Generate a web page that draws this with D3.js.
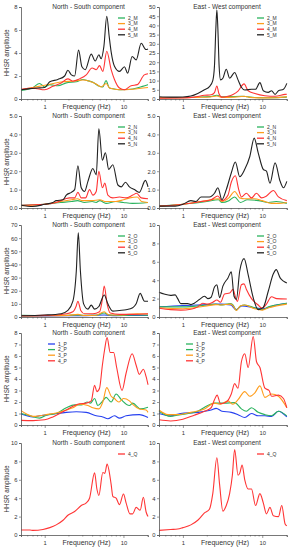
<!DOCTYPE html>
<html lang="en">
<head>
<meta charset="UTF-8">
<script src="https://cdnjs.cloudflare.com/ajax/libs/d3/7.8.5/d3.min.js"></script>
<title>HHSR</title>
<style>
  body { margin: 0; background: #fff; }
  svg text { font-family: "Liberation Sans", Arial, sans-serif; fill: #333; }
</style>
</head>
<body>
<div id="chart"></div>
<script>
// ---- data: [frequency (Hz), HHSR amplitude] ----
const freqDomain = [0.5, 20.5];
const titles = ["North - South component", "East - West component"];
const xTickValues = [0.5, 0.6, 0.7, 0.8, 0.9, 1, 2, 3, 4, 5, 6, 7, 8, 9, 10, 20];
const xTickLabels = [1, 10];

// row 1 : M
const ns_2M = [[0.5,0.75],[0.71,1.0],[0.86,1.35],[1,1.05],[1.16,1.25],[1.47,1.15],[1.88,1.4],[2.52,1.5],[3.06,1.7],[3.5,1.6],[4.1,1.45],[4.97,1.1],[5.47,1.05],[6.0,1.6],[6.65,0.95],[7.69,0.87],[9.4,0.8],[13.1,0.87],[17.5,1.1],[20.5,1.25]];
const ns_3M = [[0.5,0.8],[0.71,1.0],[1,1.2],[1.27,1.35],[1.7,1.5],[2.28,1.55],[3.06,1.65],[3.71,1.55],[4.5,1.3],[5.21,1.05],[6.03,1.35],[6.65,0.95],[8.9,0.8],[13.1,0.85],[20.5,1.0]];
const ns_4M = [[0.5,0.85],[0.71,0.95],[1,0.8],[1.27,1.1],[1.62,1.4],[1.97,1.75],[2.28,1.55],[2.77,1.75],[3.37,2.1],[4.0,2.7],[4.5,2.55],[4.97,2.9],[5.47,2.4],[6.14,4.15],[6.98,2.55],[7.69,1.7],[8.9,0.95],[10.3,0.8],[12.5,1.15],[15,1.25],[18.4,2.1],[20.5,2.2]];
const ns_5M = [[0.5,0.8],[0.65,0.9],[0.8,0.95],[1,1.0],[1.16,1.5],[1.47,1.7],[1.79,2.0],[1.97,2.5],[2.18,2.1],[2.4,2.0],[2.69,4.25],[2.97,2.8],[3.27,2.55],[3.9,3.9],[4.38,3.3],[4.87,3.85],[5.2,3.5],[5.65,4.6],[6.14,7.2],[6.6,5.4],[6.98,4.1],[7.69,2.85],[8.9,2.4],[10.3,2.8],[11.3,2.25],[12.9,3.7],[14.5,3.4],[16.8,4.85],[19.3,4.3],[20.5,4.35]];
const ew_2M = [[0.5,0.8],[1,0.8],[1.5,1.0],[2.2,1.3],[2.68,2.0],[3.1,1.2],[4,1.3],[5.5,1.5],[6.5,1.2],[8,0.8],[12,0.7],[20.4,1.0]];
const ew_3M = [[0.5,0.6],[1,0.7],[1.5,0.9],[2.2,1.1],[2.68,1.6],[3.1,0.9],[4.5,1.0],[5.9,1.5],[7,0.9],[10,0.6],[15,0.7],[20.4,1.3]];
const ew_4M = [[0.5,0.5],[1,0.6],[1.39,1],[1.87,2],[2.27,2.3],[2.5,3.5],[2.68,7.1],[2.84,3],[3.1,1],[3.7,1.5],[4.28,2.5],[4.95,4.3],[5.9,8.2],[6.64,4.5],[8.07,3],[10.8,1.8],[14.5,1.5],[19.4,2.5],[20.4,2.6]];
const ew_5M = [[0.5,1.2],[0.7,1.0],[1,1.1],[1.26,1.6],[1.54,3],[1.87,5],[2.16,6.7],[2.38,10],[2.5,18],[2.6,38],[2.68,48.5],[2.76,38],[2.86,18],[2.98,10.4],[3.19,11.3],[3.52,16.2],[3.88,11.3],[4.49,14.4],[4.95,10.4],[5.46,6.4],[6.02,4.9],[7.32,5.3],[8.23,5.3],[9.34,8.9],[10.3,4.5],[11.9,3.6],[13.1,4.5],[14.5,2.5],[16,4.5],[18.5,5.3],[20.4,8.5]];

// row 2 : N
const ns_2N = [[0.5,0.15],[1,0.2],[1.6,0.3],[2.2,0.35],[2.6,0.4],[3.2,0.3],[4,0.35],[4.5,0.3],[5,0.4],[6,0.25],[8,0.35],[10,0.3],[13,0.25],[20.5,0.3]];
const ns_3N = [[0.5,0.12],[1,0.2],[1.6,0.35],[2.2,0.45],[2.6,0.5],[3,0.4],[4,0.4],[5,0.45],[6,0.35],[8,0.35],[10,0.45],[12,0.55],[15,0.6],[17,0.35],[20.5,0.3]];
const ns_4N = [[0.5,0.15],[1,0.2],[1.4,0.3],[2.07,0.55],[2.4,0.55],[2.64,0.85],[2.91,0.55],[3.3,0.55],[3.71,1.0],[4.09,0.7],[4.51,0.9],[4.87,2.0],[5.4,1.1],[5.8,1.35],[6.34,0.7],[7.33,0.55],[8.9,0.6],[10.8,0.55],[13.1,0.7],[14.7,0.8],[16.8,0.55],[20.5,0.5]];
const ns_5N = [[0.5,0.15],[0.7,0.08],[1,0.2],[1.27,0.3],[1.4,0.4],[1.71,0.45],[1.88,0.7],[2.18,0.85],[2.4,1.0],[2.64,2.3],[2.91,1.1],[3.21,0.9],[3.54,1.45],[4.09,2.15],[4.51,1.8],[4.87,4.3],[5.4,2.6],[5.9,3.0],[6.5,2.1],[7.33,2.35],[8.5,1.25],[9.4,1.15],[10.6,1.4],[11.9,1.15],[13.8,1.0],[15.9,0.85],[19.0,1.5],[20.5,1.15]];
const ew_2N = [[0.5,0.1],[1,0.2],[2,0.35],[2.8,0.45],[3.1,0.3],[3.8,0.4],[4.5,0.6],[5.3,0.3],[6.5,0.45],[9,0.4],[12,0.3],[15,0.35],[20.4,0.25]];
const ew_3N = [[0.5,0.1],[1,0.2],[2,0.4],[2.8,0.5],[3.1,0.35],[3.8,0.55],[4.5,0.9],[5.2,0.55],[6,0.5],[8,0.5],[10,0.4],[13,0.25],[16,0.25],[20.4,0.3]];
const ew_4N = [[0.5,0.1],[1,0.2],[1.69,0.35],[2.27,0.45],[2.76,0.65],[3.1,0.4],[3.7,0.7],[4.07,1.4],[4.58,1.75],[5.05,1.0],[5.46,0.6],[6.32,0.8],[7.32,0.55],[8.47,0.8],[9.81,0.55],[11.3,0.65],[13.8,0.95],[16,0.6],[20.4,0.4]];
const ew_5N = [[0.5,0.1],[0.8,0.1],[1,0.2],[1.26,0.4],[1.46,0.35],[1.69,0.6],[2.16,0.6],[2.5,0.8],[2.76,1.1],[3.1,0.45],[3.52,1.0],[4.07,1.9],[4.58,2.5],[5.2,1.7],[6.02,2.1],[6.97,2.8],[7.91,3.8],[8.89,3.0],[10.3,2.1],[11.3,2.0],[12.5,1.35],[14.5,2.45],[16.8,1.45],[18.5,1.1],[20.4,1.45]];

// row 3 : O
const ns_1O = [[0.5,0.8],[1,0.8],[2,0.9],[3,1.0],[5.7,1.5],[8,1.0],[13,1.2],[20.5,1.2]];
const ns_2O = [[0.5,1.2],[1,1.1],[2,1.3],[2.64,1.5],[3.2,1.2],[4.5,1.3],[5.7,3],[6.5,1.5],[9,1.2],[15,1.5],[20.5,1.3]];
const ns_3O = [[0.5,0.8],[1,0.9],[2,1.2],[2.64,2],[3.2,1.1],[4.5,1.3],[5.7,4],[6.5,1.5],[9,1.5],[15,2.5],[20.5,2.3]];
const ns_4O = [[0.5,1.0],[1,1.2],[1.88,2.5],[2.28,4],[2.5,8],[2.64,12],[2.87,5],[3.21,2.5],[4.09,2.5],[4.97,4],[5.35,12],[5.7,23.5],[6.2,10],[6.8,3],[8.9,2],[13.1,2],[20.5,2.5]];
const ns_5O = [[0.5,1.0],[1,1.5],[1.62,2.5],[1.97,5],[2.28,12],[2.52,35],[2.67,64],[2.84,35],[3.12,10],[3.54,6],[3.9,9],[4.3,6],[4.87,8],[5.7,16.7],[6.34,10],[7.33,4.5],[8.9,5],[10.8,5.5],[13.1,7],[14.5,10],[16.3,18],[18.5,12],[20.5,12]];
const ew_1O = [[0.5,1.1],[1,1.25],[2,1.35],[3,1.4],[4,1.3],[4.7,0.8],[5.5,1.2],[8,1.0],[10,0.9],[15,1.3],[20.4,1.5]];
const ew_2O = [[0.5,1.1],[1,1.1],[2,1.3],[2.6,1.4],[3,1.3],[4,1.45],[4.3,1.3],[4.7,0.75],[5.3,1.2],[6,1.3],[8,1.0],[10,0.8],[12,1.1],[15,1.3],[20.4,1.5]];
const ew_3O = [[0.5,1.0],[1,0.9],[2,1.2],[2.6,1.35],[3,1.3],[4,1.4],[4.3,1.2],[4.7,0.7],[5.3,1.2],[6,1.3],[8,0.9],[10,0.75],[12,1.0],[15,1.2],[20.4,1.4]];
const ew_4O = [[0.5,0.95],[0.7,0.8],[0.94,0.75],[1.26,0.85],[1.54,1.1],[1.78,1.5],[2.06,1.4],[2.38,1.6],[2.68,1.85],[2.98,1.6],[3.35,2.5],[3.88,2.6],[4.28,3.0],[4.58,2.2],[4.86,1.7],[5.46,3.5],[5.9,3.6],[6.32,3.0],[7.32,2.0],[8.89,1.3],[10,0.95],[11.3,1.4],[13.1,2.2],[15.2,2.0],[20.4,1.95]];
const ew_5O = [[0.5,2.7],[0.58,2.5],[0.7,2.35],[0.8,2.4],[0.86,2.0],[0.94,1.45],[1.15,1.45],[1.26,1.35],[1.39,1.5],[1.61,1.9],[1.87,2.25],[2.06,2.0],[2.27,2.15],[2.5,3.25],[2.68,3.5],[2.9,2.1],[3.19,3.35],[3.7,4.25],[4.07,4.9],[4.41,2.25],[4.72,1.9],[5.2,5.0],[5.9,6.35],[6.64,4.6],[7.69,2.1],[8.89,0.8],[10.3,1.05],[11.9,2.8],[13.8,4.7],[15,5.15],[16.8,4.25],[18.5,3.9],[20.4,3.7]];

// row 4 : P
const ns_1P = [[0.5,0.95],[0.59,0.8],[0.71,0.7],[0.86,0.8],[1.27,0.95],[1.88,1.1],[2.52,1.15],[3.37,1.1],[4.51,0.8],[5.47,0.7],[6.34,0.55],[7.69,0.8],[8.9,0.6],[10.8,0.8],[15.9,0.9],[20.5,0.65]];
const ns_2P = [[0.5,1.0],[0.65,0.8],[0.86,0.6],[1.05,0.85],[1.4,1.0],[1.88,1.5],[2.4,1.75],[2.91,1.75],[3.45,2.0],[3.8,1.9],[4.3,2.3],[4.73,1.7],[5.47,2.1],[6.03,2.4],[6.98,2.0],[8.07,2.7],[9.4,2.2],[11.9,1.7],[13.1,1.9],[16.5,1.4],[20.5,1.55]];
const ns_3P = [[0.5,1.25],[0.59,0.95],[0.71,0.75],[0.86,0.8],[1.05,0.9],[1.4,1.05],[1.88,1.3],[2.28,1.5],[2.77,1.8],[3.54,1.7],[4.09,1.5],[4.87,1.4],[5.47,2.0],[6.14,3.25],[6.98,2.5],[7.69,2.3],[8.7,2.0],[10,2.3],[11.9,2.1],[13.1,1.8],[15.9,1.4],[19.4,1.3],[20.5,1.1]];
const ns_4P = [[0.5,0.4],[0.71,0.38],[1,0.45],[1.27,0.7],[1.55,1.0],[1.88,1.3],[2.4,1.7],[2.77,1.85],[3.37,1.9],[3.9,2.1],[4.3,3.45],[4.6,2.9],[4.97,3.2],[5.4,5.2],[5.75,6.5],[6.2,7.6],[6.8,6.3],[7.5,6.3],[8.2,5],[9.6,3.0],[10.8,4.5],[12.9,6.2],[14.5,5.2],[15.9,4.4],[17.9,4.85],[19.4,4.2],[20.5,3.5]];
const ew_1P = [[0.5,1.0],[0.7,0.8],[0.93,1.0],[1.54,1.1],[2.27,1.3],[2.63,1.45],[3.1,1.2],[4.07,1.1],[4.95,0.9],[6.02,0.65],[7.32,1.0],[8.89,0.8],[10.8,0.8],[13.1,0.75],[16,1.2],[20.4,0.7]];
const ew_2P = [[0.5,1.2],[0.7,0.75],[0.93,0.9],[1.54,1.2],[2.06,1.7],[2.5,1.9],[3.35,1.9],[4.49,1.95],[5.46,1.4],[6.32,1.2],[7.32,1.5],[8.89,1.1],[10.8,0.9],[13.1,0.8],[16,1.2],[20.4,0.8]];
const ew_3P = [[0.5,1.3],[0.65,0.9],[0.86,0.9],[1.26,1.1],[1.87,1.4],[2.5,1.9],[2.98,1.8],[3.7,2.1],[4.28,1.8],[4.95,2.2],[6.02,2.9],[6.97,2.5],[8.07,2.8],[9.34,3.4],[10.8,2.4],[13.1,2.7],[16,2.5],[20.4,1.5]];
const ew_4P = [[0.5,0.45],[0.7,0.35],[1,0.5],[1.39,0.85],[1.87,1.2],[2.27,1.5],[2.5,2.2],[2.7,2.6],[2.98,1.85],[3.52,2.0],[4.07,2.7],[4.49,3.6],[4.95,3.2],[5.46,5.5],[6.02,6.2],[6.64,5.0],[7.69,7.7],[8.47,5.5],[9.34,5.0],[10.8,3.2],[12.2,3.0],[13.1,2.5],[16,2.6],[18.5,2.3],[20.4,1.5]];

// row 5 : Q
const ns_4Q = [[0.5,0.55],[0.65,0.55],[0.71,0.5],[0.95,0.6],[1.16,0.8],[1.4,1.1],[1.71,1.6],[1.97,2.15],[2.4,2.55],[2.91,3.2],[3.37,3.5],[3.71,4.0],[4.3,6.75],[4.6,5.0],[4.87,4.3],[5.47,6.8],[5.8,6.7],[6.2,7.7],[6.98,5.5],[7.33,4.2],[8.07,4.0],[8.9,3.3],[10,4.45],[10.8,3.5],[12.1,2.3],[13.1,2.3],[14.5,3.0],[16.3,2.7],[17.9,4.1],[19.4,2.5],[20.5,2.0]];
const ew_4Q = [[0.5,0.5],[0.7,0.6],[0.86,0.65],[1,0.8],[1.26,1.1],[1.54,1.6],[1.87,2.4],[2.16,2.8],[2.38,4.5],[2.68,8.4],[2.9,5.5],[3.19,2.6],[3.52,3.2],[3.88,4.5],[4.2,6.5],[4.49,9.3],[4.95,6.5],[5.2,6.7],[5.57,7.6],[6.02,6.0],[6.64,5.0],[7.32,5.0],[8.23,3.2],[9.34,4.5],[10.3,3.5],[11.3,2.3],[12.5,3.0],[13.8,2.1],[16,2.0],[17.6,3.2],[19.4,1.2],[20.4,1.0]];

// y axis: [max, step] per row and column
const yAxes = [[[8,2],[50,5]], [[5,1],[5,1]], [[70,10],[10,2]], [[8,1],[8,1]], [[10,2],[10,2]]];

const green = "#2bb35e", orange = "#ff9d1c", red = "#ff3535", black = "#222", blue = "#2640f0";

// panel table built from the arrays above
const panels = [
  {row:0, col:0, legendPos:"right", series:[[ns_2M,green,"2_M"],[ns_3M,orange,"3_M"],[ns_4M,red,"4_M"],[ns_5M,black,"5_M"]]},
  {row:0, col:1, legendPos:"right", series:[[ew_2M,green,"2_M"],[ew_3M,orange,"3_M"],[ew_4M,red,"4_M"],[ew_5M,black,"5_M"]]},
  {row:1, col:0, legendPos:"right", series:[[ns_2N,green,"2_N"],[ns_3N,orange,"3_N"],[ns_4N,red,"4_N"],[ns_5N,black,"5_N"]]},
  {row:1, col:1, legendPos:"right", series:[[ew_2N,green,"2_N"],[ew_3N,orange,"3_N"],[ew_4N,red,"4_N"],[ew_5N,black,"5_N"]]},
  {row:2, col:0, legendPos:"right", series:[[ns_1O,blue,null],[ns_2O,green,"2_O"],[ns_3O,orange,"3_O"],[ns_4O,red,"4_O"],[ns_5O,black,"5_O"]]},
  {row:2, col:1, legendPos:"right", series:[[ew_1O,blue,null],[ew_2O,green,"2_O"],[ew_3O,orange,"3_O"],[ew_4O,red,"4_O"],[ew_5O,black,"5_O"]]},
  {row:3, col:0, legendPos:"left", series:[[ns_1P,blue,"1_P"],[ns_2P,green,"2_P"],[ns_3P,orange,"3_P"],[ns_4P,red,"4_P"]]},
  {row:3, col:1, legendPos:"left", series:[[ew_1P,blue,"1_P",green],[ew_2P,green,"2_P"],[ew_3P,orange,"3_P"],[ew_4P,red,"4_P"]]},
  {row:4, col:0, legendPos:"right", series:[[ns_4Q,red,"4_Q"]]},
  {row:4, col:1, legendPos:"right", series:[[ew_4Q,red,"4_Q"]]}
];

// layout
const width = 294, height = 550;
const colX = [[21, 148], [159, 287]];
const rowTop = [7, 116, 225, 333, 443];
const plotH = 92;

const svg = d3.select("#chart").append("svg")
  .attr("width", width).attr("height", height);

panels.forEach(function(p) {
  const top = rowTop[p.row];
  const x = d3.scaleLog().domain(freqDomain).range(colX[p.col]);
  const ymax = yAxes[p.row][p.col][0], step = yAxes[p.row][p.col][1];
  const y = d3.scaleLinear().domain([0, ymax]).range([top + plotH, top]);
  const g = svg.append("g");

  // lines
  const line = d3.line().x(d => x(d[0])).y(d => y(d[1])).curve(d3.curveMonotoneX);
  p.series.forEach(function(s) {
    g.append("path").datum(s[0])
      .attr("fill", "none").attr("stroke", s[1]).attr("stroke-width", 1.1)
      .attr("d", line);
  });

  // y axis
  const yAx = g.append("g").attr("transform", "translate(" + colX[p.col][0] + ",0)")
    .call(d3.axisLeft(y).tickValues(d3.range(0, ymax + step / 2, step)).tickSize(2).tickPadding(1.5));
  // x axis
  const xAx = g.append("g").attr("transform", "translate(0," + (top + plotH) + ")")
    .call(d3.axisBottom(x).tickValues(xTickValues)
      .tickFormat(d => xTickLabels.includes(d) ? d : "").tickSize(2).tickPadding(4));
  xAx.selectAll(".tick line").attr("y2", d => [1, 10].includes(d) ? 3 : 1.5);
  [yAx, xAx].forEach(function(a) {
    a.select(".domain").attr("stroke", "#555").attr("stroke-width", 0.8);
    a.selectAll(".tick line").attr("stroke", "#555").attr("stroke-width", 0.6);
    a.selectAll("text").attr("font-size", 5.8).attr("fill", "#444")
      .attr("font-family", "Liberation Sans, Arial, sans-serif");
  });

  // title
  const cx = (colX[p.col][0] + colX[p.col][1]) / 2 + 4;
  g.append("text").attr("x", cx).attr("y", top + 1.5)
    .attr("text-anchor", "middle").attr("font-size", 6.5).text(titles[p.col]);
  g.append("text").attr("x", cx - 2).attr("y", top + plotH + 10)
    .attr("text-anchor", "middle").attr("font-size", 7).text("Frequency (Hz)");
  if (p.col === 0) {
    g.append("text").attr("transform", "translate(8.5," + (top + plotH / 2) + ") rotate(-90)")
      .attr("text-anchor", "middle").attr("font-size", 6.3).text("HHSR amplitude");
  }

  // legend
  const items = p.series.filter(s => s[2]);
  const lx = p.legendPos === "right" ? colX[p.col][1] - 30 : colX[p.col][0] + 27;
  items.forEach(function(s, i) {
    const ly = top + 11 + i * 5.6;
    g.append("line").attr("x1", lx).attr("x2", lx + 7).attr("y1", ly).attr("y2", ly)
      .attr("stroke", s[3] || s[1]).attr("stroke-width", 1.3);
    g.append("text").attr("x", lx + 10).attr("y", ly + 1.8)
      .attr("font-size", 5).attr("fill", "#555").text(s[2]);
  });
});
</script>
</body>
</html>
